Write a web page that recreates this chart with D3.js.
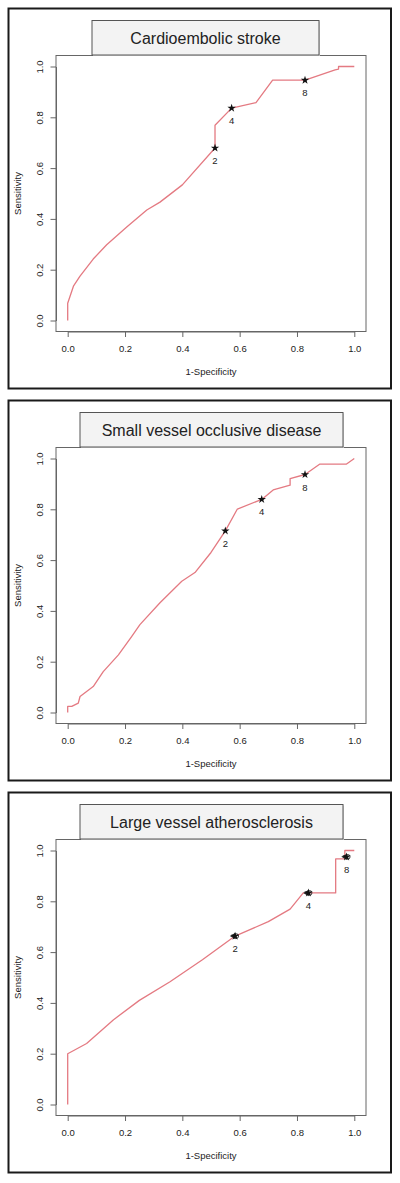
<!DOCTYPE html>
<html><head><meta charset="utf-8">
<script src="https://cdn.jsdelivr.net/npm/d3@7"></script>
<style>
body{margin:0;background:#fff}
svg{display:block}
text{font-family:"Liberation Sans",Arial,Helvetica,sans-serif;fill:#222}
</style>
</head><body>
<svg id="c" width="400" height="1183"></svg>
<script>
// ---------- data ----------
const titles = ["Cardioembolic stroke", "Small vessel occlusive disease", "Large vessel atherosclerosis"];

const ceFpr = [0, 0, 0.02, 0.043, 0.089, 0.136, 0.206, 0.276, 0.322, 0.40, 0.514, 0.514, 0.572, 0.657, 0.715, 0.828, 0.933, 0.945, 0.945, 1.0];
const ceTpr = [0, 0.068, 0.135, 0.175, 0.242, 0.298, 0.368, 0.435, 0.466, 0.534, 0.679, 0.769, 0.836, 0.858, 0.946, 0.946, 0.987, 0.99, 1.0, 1.0];

const svFpr = [0, 0, 0.014, 0.037, 0.043, 0.066, 0.089, 0.124, 0.177, 0.223, 0.252, 0.322, 0.398, 0.444, 0.50, 0.550, 0.592, 0.677, 0.717, 0.776, 0.776, 0.828, 0.880, 0.973, 1.0];
const svTpr = [0, 0.024, 0.024, 0.037, 0.063, 0.083, 0.102, 0.161, 0.227, 0.299, 0.346, 0.432, 0.517, 0.551, 0.63, 0.715, 0.801, 0.839, 0.876, 0.895, 0.921, 0.937, 0.978, 0.978, 1.0];

const laFpr = [0, 0, 0.066, 0.159, 0.25, 0.357, 0.47, 0.584, 0.70, 0.776, 0.822, 0.935, 0.935, 0.967, 0.967, 1.0];
const laTpr = [0, 0.2, 0.24, 0.333, 0.41, 0.483, 0.57, 0.663, 0.72, 0.769, 0.833, 0.833, 0.967, 0.967, 1.0, 1.0];

const cutLabels = ["2", "4", "8"];
const ceCutFpr = [0.514, 0.572, 0.828], ceCutTpr = [0.679, 0.836, 0.946];
const svCutFpr = [0.550, 0.677, 0.828], svCutTpr = [0.715, 0.839, 0.937];
const laCutFpr = [0.584, 0.840, 0.973], laCutTpr = [0.663, 0.833, 0.975];

const xTicks = [0, 0.2, 0.4, 0.6, 0.8, 1.0];
const yTicks = [0, 0.2, 0.4, 0.6, 0.8, 1.0];
const tickLabels = ["0.0", "0.2", "0.4", "0.6", "0.8", "1.0"];
const xTitle = "1-Specificity", yTitle = "Sensitivity";

// ---------- layout ----------
const panelTops = [8, 400, 792];
const panelH = 381;
const titleBoxX = [[92, 319], [80, 343], [80, 343]];
const series = [
  {fpr: ceFpr, tpr: ceTpr, cf: ceCutFpr, ct: ceCutTpr, cluster: false},
  {fpr: svFpr, tpr: svTpr, cf: svCutFpr, ct: svCutTpr, cluster: false},
  {fpr: laFpr, tpr: laTpr, cf: laCutFpr, ct: laCutTpr, cluster: true}
];

const svg = d3.select("#c");
const x = d3.scaleLinear().domain([0, 1]).range([67.7, 354.3]);
const y = d3.scaleLinear().domain([0, 1]).range([312.5, 58.5]);
const boxL = 56, boxR = 366, boxT = 47.5, boxB = 323.5;
const lineCol = "#e47a82";
const fs = 9.5;

series.forEach((s, i) => {
  const g = svg.append("g").attr("transform", `translate(0,${panelTops[i]})`);
  // outer frame
  g.append("rect").attr("x", 8.5).attr("y", 0.5).attr("width", 382.5).attr("height", panelH - 1)
    .attr("fill", "none").attr("stroke", "#1a1a1a").attr("stroke-width", 2);
  // plot box
  g.append("rect").attr("x", boxL).attr("y", boxT).attr("width", boxR - boxL).attr("height", boxB - boxT)
    .attr("fill", "#fff").attr("stroke", "#666").attr("stroke-width", 1);
  // axes
  const xa = g.append("g").attr("transform", `translate(0,${boxB})`)
    .call(d3.axisBottom(x).tickValues(xTicks).tickFormat((d, k) => tickLabels[k]).tickSize(5.5).tickSizeOuter(0));
  xa.select(".domain").attr("stroke", "#666");
  xa.selectAll(".tick line").attr("stroke", "#666");
  xa.selectAll("text").attr("y", 20.5).attr("dy", null).style("font-size", fs + "px")
    .style("font-family", "'Liberation Sans',Arial,sans-serif").attr("fill", "#333");
  const ya = g.append("g").attr("transform", `translate(${boxL},0)`)
    .call(d3.axisLeft(y).tickValues(yTicks).tickFormat((d, k) => tickLabels[k]).tickSize(5.5).tickSizeOuter(0));
  ya.select(".domain").attr("stroke", "#666");
  ya.selectAll(".tick line").attr("stroke", "#666");
  ya.selectAll("text").attr("x", 0).attr("y", 0).attr("dy", null).attr("text-anchor", "middle")
    .attr("transform", "translate(-13,0) rotate(-90)").style("font-size", fs + "px")
    .style("font-family", "'Liberation Sans',Arial,sans-serif").attr("fill", "#333");
  // axis titles
  g.append("text").attr("x", (boxL + boxR) / 2).attr("y", 367).attr("text-anchor", "middle")
    .style("font-size", fs + "px").attr("fill", "#333").text(xTitle);
  g.append("text").attr("transform", `translate(21,${(boxT + boxB) / 2}) rotate(-90)`).attr("text-anchor", "middle")
    .style("font-size", fs + "px").attr("fill", "#333").text(yTitle);
  // title box
  const [tx0, tx1] = titleBoxX[i];
  g.append("rect").attr("x", tx0 + 1).attr("y", 13.5).attr("width", tx1 - tx0).attr("height", 34.5)
    .attr("fill", "#d6d6d6");
  g.append("rect").attr("x", tx0).attr("y", 12.5).attr("width", tx1 - tx0).attr("height", 34.5)
    .attr("fill", "#f3f3f3").attr("stroke", "#555").attr("stroke-width", 1);
  g.append("text").attr("x", (tx0 + tx1) / 2).attr("y", 35.8).attr("text-anchor", "middle")
    .style("font-size", "16px").attr("fill", "#111").text(titles[i]);
  // ROC curve
  const pts = s.fpr.map((v, k) => [v, s.tpr[k]]);
  g.append("path").datum(pts)
    .attr("d", d3.line().x(d => x(d[0])).y(d => y(d[1])))
    .attr("fill", "none").attr("stroke", lineCol).attr("stroke-width", 1.3).attr("stroke-linejoin", "round");
  // cut-off markers
  s.cf.forEach((v, k) => {
    const cx = x(v), cy = y(s.ct[k]);
    if (s.cluster) {
      g.append("path").attr("d", d3.symbol(d3.symbolTriangle).size(18)())
        .attr("transform", `translate(${cx - 1.5},${cy}) rotate(-90)`).attr("fill", "#222");
      g.append("circle").attr("cx", cx + 1.2).attr("cy", cy).attr("r", 2.3)
        .attr("fill", "none").attr("stroke", "#222").attr("stroke-width", 0.9);
    }
    g.append("path").attr("d", d3.symbol(d3.symbolStar).size(22)())
      .attr("transform", `translate(${cx},${cy})`).attr("fill", "#111");
    g.append("text").attr("x", cx).attr("y", cy + 16).attr("text-anchor", "middle")
      .style("font-size", fs + "px").attr("fill", "#333").text(cutLabels[k]);
  });
});
</script>
</body></html>
